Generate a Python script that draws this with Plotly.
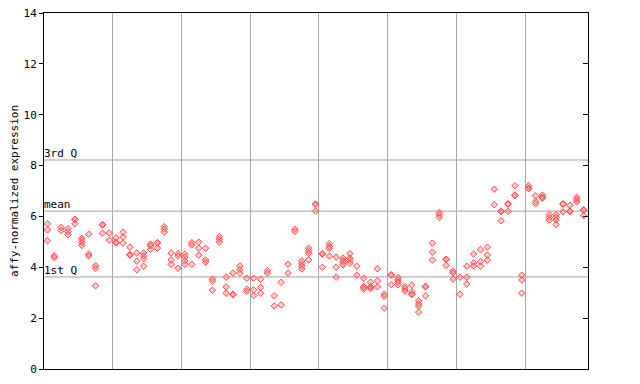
import plotly.graph_objects as go

# expression values per sample column (replicates stacked at the same x)
sample_values = [
    [5.71, 5.47, 5.04], [4.45, 4.38], [5.57, 5.45], [5.52, 5.40, 5.28],
    [5.89, 5.88, 5.71], [5.14, 5.06, 4.97, 4.86], [5.30, 4.52, 4.44],
    [4.06, 3.96, 3.27], [5.68, 5.66, 5.34], [5.35, 5.07],
    [5.15, 4.98, 4.96], [5.38, 5.19, 4.95], [4.79, 4.50, 4.48],
    [4.56, 4.24, 3.90], [4.56, 4.45, 4.34, 4.04], [4.91, 4.84, 4.71],
    [4.97, 4.96, 4.75], [5.60, 5.50, 5.38], [4.56, 4.29, 4.11],
    [4.53, 4.44, 3.96],
    [4.51, 4.40, 4.25, 4.12], [4.97, 4.88, 4.12], [4.99, 4.75, 4.48],
    [4.75, 4.29, 4.20], [3.54, 3.45, 3.10], [5.21, 5.11, 4.99],
    [3.61, 3.23, 2.98], [3.77, 2.94, 2.92], [4.05, 3.91, 3.77],
    [3.57, 3.14, 3.05],
    [3.57, 3.11, 2.89], [3.53, 3.20, 2.98], [3.87, 3.77], [2.88, 2.48],
    [3.41, 2.52], [4.12, 3.77], [5.50, 5.41], [4.25, 4.14, 4.04, 3.93],
    [4.75, 4.65, 4.55, 4.29], [6.49, 6.47, 6.21],
    [4.54, 4.52, 4.00], [4.93, 4.82, 4.74, 4.44], [4.40, 4.00, 3.61],
    [4.36, 4.27, 4.19, 4.10], [4.54, 4.36, 4.27, 4.16], [4.04, 3.69],
    [3.57, 3.24, 3.22, 3.14], [3.41, 3.24, 3.22, 3.16], [3.94, 3.47, 3.23],
    [2.94, 2.86, 2.39],
    [3.71, 3.69, 3.32], [3.60, 3.50, 3.41, 3.31], [3.24, 3.15, 3.06],
    [3.30, 3.05, 2.95, 2.93], [2.68, 2.56, 2.47, 2.23], [3.25, 3.23, 2.88],
    [4.95, 4.59, 4.28], [6.15, 6.06, 5.96], [4.32, 4.30, 4.07],
    [3.85, 3.78, 3.53],
    [3.61, 2.94], [4.04, 3.61, 3.34], [4.52, 4.17, 4.05], [4.69, 4.22, 4.04],
    [4.79, 4.48, 4.28], [7.07, 6.46], [6.21, 6.19, 5.83], [6.50, 6.48, 6.20],
    [7.21, 6.84, 6.82], [3.69, 3.50, 2.98],
    [7.21, 7.11, 7.09], [6.81, 6.59, 6.50], [6.84, 6.76, 6.72],
    [6.07, 5.96, 5.86], [6.07, 5.96, 5.86, 5.68], [6.50, 6.48, 6.18],
    [6.44, 6.21, 6.19], [6.75, 6.66, 6.57], [6.26, 6.24, 6.03],
]

stat_labels = ["3rd Q", "mean", "1st Q"]
stat_values = [8.22, 6.21, 3.62]

y_ticks = [0, 2, 4, 6, 8, 10, 12, 14]

xs, ys = [], []
for i, vals in enumerate(sample_values):
    for v in vals:
        xs.append(i + 0.5)
        ys.append(v)

n = len(sample_values)
x_max = n + 0.13

fig = go.Figure()
fig.add_trace(go.Scatter(
    x=xs, y=ys, mode="markers",
    marker=dict(symbol="diamond", size=5, color="rgba(255,120,120,0.4)",
                line=dict(color="rgba(255,70,70,0.95)", width=1)),
    showlegend=False, hoverinfo="skip"))
# invisible trace to attach the right-hand axis
fig.add_trace(go.Scatter(x=[0], y=[0], yaxis="y2", mode="markers",
                         marker=dict(opacity=0), showlegend=False, hoverinfo="skip"))

mono = "DejaVu Sans Mono"
shapes = []
annotations = []
for lab, val in zip(stat_labels, stat_values):
    shapes.append(dict(type="line", xref="paper", yref="y", x0=0, x1=1, y0=val, y1=val,
                       line=dict(color="#A0A0A0", width=1), layer="below"))
    annotations.append(dict(text=lab, xref="paper", yref="y", x=0, y=val,
                            xanchor="left", yanchor="bottom", showarrow=False,
                            yshift=-2, xshift=-2,
                            font=dict(family=mono, size=11, color="black")))

# the page body adds an 8px offset, so the figure is sized/margined to compensate
fig.update_layout(
    width=632, height=376,
    margin=dict(l=36, r=52, t=5, b=15, autoexpand=False),
    paper_bgcolor="white", plot_bgcolor="white",
    font=dict(family=mono, size=11, color="black"),
    xaxis=dict(range=[0, x_max], dtick=10, tick0=0, showgrid=True,
               gridcolor="#A8A8A8", gridwidth=1, showticklabels=False,
               ticks="", zeroline=False, showline=True, linecolor="black",
               linewidth=1, mirror=True, automargin=False),
    yaxis=dict(range=[0, 14], tickvals=y_ticks, ticks="outside", ticklen=4,
               tickcolor="black", showgrid=False, zeroline=False,
               showline=True, linecolor="black", linewidth=1, automargin=False,
               ticklabeloverflow="allow",
               title=dict(text="affy-normalized expression", standoff=6,
                          font=dict(family=mono, size=11)),
               tickfont=dict(family=mono, size=11)),
    yaxis2=dict(range=[0, 14], tickvals=y_ticks, ticks="inside", ticklen=5,
                tickcolor="black", overlaying="y", side="right",
                showticklabels=False, showgrid=False, zeroline=False,
                showline=True, linecolor="black", linewidth=1, automargin=False),
    shapes=shapes,
    annotations=annotations,
)

fig.write_html("out.html")
